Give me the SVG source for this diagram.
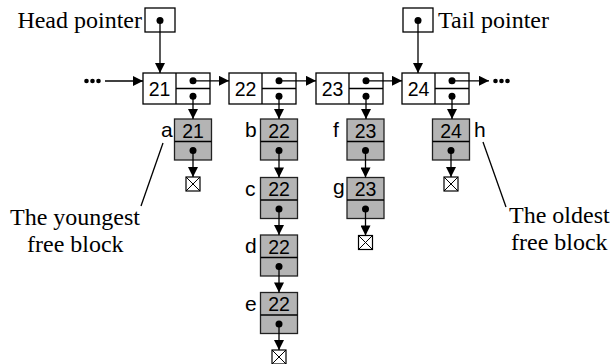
<svg xmlns="http://www.w3.org/2000/svg" width="610" height="364" viewBox="0 0 610 364">
<defs>
<style>
.box{fill:#fff;stroke:#000;stroke-width:1.3}
.blk{fill:#b4b4b4;stroke:#222;stroke-width:1.3}
.ln{fill:none;stroke:#000;stroke-width:1.3}
.ser{font-family:"Liberation Serif","Times New Roman",serif;font-size:24px;fill:#000}
.san{font-family:"Liberation Sans",Arial,sans-serif;font-size:19.5px;fill:#000}
.lab{font-family:"Liberation Sans",Arial,sans-serif;font-size:21px;fill:#000}
.mid{text-anchor:middle}
</style>
<marker id="ah" viewBox="0 0 10 10" refX="10" refY="5" markerWidth="11" markerHeight="10" markerUnits="userSpaceOnUse" orient="auto">
<path d="M0,0 L10,5 L0,10 z" fill="#000"/>
</marker>
<g id="term">
<rect x="-7" y="0" width="14" height="14" fill="#fff" stroke="#000" stroke-width="1.2"/>
<path d="M-7,0 L7,14 M7,0 L-7,14" stroke="#000" stroke-width="1"/>
</g>
</defs>
<rect width="610" height="364" fill="#fff"/>

<g id="head-pointer">
<text class="ser" x="142" y="28" text-anchor="end">Head pointer</text>
<rect class="box" x="145" y="8" width="30" height="24"/>
<circle cx="160" cy="20.5" r="3.5"/>
</g>
<g id="tail-pointer">
<rect class="box" x="403" y="8" width="30" height="24"/>
<circle cx="418" cy="20.5" r="3.5"/>
<text class="ser" x="438" y="28">Tail pointer</text>
</g>
<g id="youngest-label">
<text class="ser" x="10" y="225">The youngest</text>
<text class="ser" x="27" y="252">free block</text>
</g>
<g id="oldest-label">
<text class="ser" x="509" y="223">The oldest</text>
<text class="ser" x="511" y="250">free block</text>
</g>
<g id="dots-left">
<circle cx="86.5" cy="81" r="2.3"/><circle cx="92.5" cy="81" r="2.3"/><circle cx="98.5" cy="81" r="2.3"/>
</g>
<g id="dots-right">
<circle cx="495.5" cy="81" r="2.3"/><circle cx="501.5" cy="81" r="2.3"/><circle cx="507.5" cy="81" r="2.3"/>
</g>

<g id="node-21">
<rect class="box" x="143" y="73" width="67" height="31"/>
<path class="ln" d="M176,73 V104 M176,88.5 H210"/>
<text class="san mid" x="159.5" y="96">21</text>
<circle cx="193" cy="80.8" r="3.5"/><circle cx="193" cy="96.2" r="3.5"/>
</g>
<g id="node-22">
<rect class="box" x="229" y="73" width="67" height="31"/>
<path class="ln" d="M262,73 V104 M262,88.5 H296"/>
<text class="san mid" x="245.5" y="96">22</text>
<circle cx="279" cy="80.8" r="3.5"/><circle cx="279" cy="96.2" r="3.5"/>
</g>
<g id="node-23">
<rect class="box" x="316" y="73" width="67" height="31"/>
<path class="ln" d="M349,73 V104 M349,88.5 H383"/>
<text class="san mid" x="332.5" y="96">23</text>
<circle cx="366" cy="80.8" r="3.5"/><circle cx="366" cy="96.2" r="3.5"/>
</g>
<g id="node-24">
<rect class="box" x="402" y="73" width="67" height="31"/>
<path class="ln" d="M435,73 V104 M435,88.5 H469"/>
<text class="san mid" x="418.5" y="96">24</text>
<circle cx="452" cy="80.8" r="3.5"/><circle cx="452" cy="96.2" r="3.5"/>
</g>

<g id="block-a">
<rect class="blk" x="174.5" y="119" width="37" height="41"/>
<path class="ln" d="M174.5,141.5 H211.5"/>
<text class="san mid" x="193" y="137.5">21</text>
<circle cx="193" cy="150.5" r="3.5"/>
<text class="lab" x="161" y="137">a</text>
</g>
<g id="block-b">
<rect class="blk" x="260.5" y="119" width="37" height="41"/>
<path class="ln" d="M260.5,141.5 H297.5"/>
<text class="san mid" x="279" y="137.5">22</text>
<circle cx="279" cy="150.5" r="3.5"/>
<text class="lab" x="245" y="137">b</text>
</g>
<g id="block-c">
<rect class="blk" x="260.5" y="177.5" width="37" height="41"/>
<path class="ln" d="M260.5,200 H297.5"/>
<text class="san mid" x="279" y="196">22</text>
<circle cx="279" cy="209" r="3.5"/>
<text class="lab" x="245" y="195.5">c</text>
</g>
<g id="block-d">
<rect class="blk" x="260.5" y="235" width="37" height="41"/>
<path class="ln" d="M260.5,257.5 H297.5"/>
<text class="san mid" x="279" y="253.5">22</text>
<circle cx="279" cy="266.5" r="3.5"/>
<text class="lab" x="245" y="253">d</text>
</g>
<g id="block-e">
<rect class="blk" x="260.5" y="292.5" width="37" height="41"/>
<path class="ln" d="M260.5,315 H297.5"/>
<text class="san mid" x="279" y="311">22</text>
<circle cx="279" cy="324" r="3.5"/>
<text class="lab" x="245" y="310.5">e</text>
</g>
<g id="block-f">
<rect class="blk" x="347" y="119" width="37" height="41"/>
<path class="ln" d="M347,141.5 H384"/>
<text class="san mid" x="365.5" y="137.5">23</text>
<circle cx="365.5" cy="150.5" r="3.5"/>
<text class="lab" x="333" y="137">f</text>
</g>
<g id="block-g">
<rect class="blk" x="347" y="177.5" width="37" height="41"/>
<path class="ln" d="M347,200 H384"/>
<text class="san mid" x="365.5" y="196">23</text>
<circle cx="365.5" cy="209" r="3.5"/>
<text class="lab" x="333" y="193.5">g</text>
</g>
<g id="block-h">
<rect class="blk" x="432.5" y="119" width="37" height="41"/>
<path class="ln" d="M432.5,141.5 H469.5"/>
<text class="san mid" x="451" y="137.5">24</text>
<circle cx="451" cy="150.5" r="3.5"/>
<text class="lab" x="474" y="137">h</text>
</g>

<g id="null-a"><use href="#term" x="193" y="177"/></g>
<g id="null-e"><use href="#term" x="279" y="350"/></g>
<g id="null-g"><use href="#term" x="365.5" y="235.5"/></g>
<g id="null-h"><use href="#term" x="451" y="177"/></g>

<g id="connectors">
<path class="ln" d="M160,20.5 V73" marker-end="url(#ah)"/>
<path class="ln" d="M418,20.5 V73" marker-end="url(#ah)"/>
<path class="ln" d="M105,81 H143" marker-end="url(#ah)"/>
<path class="ln" d="M193,80.8 H229" marker-end="url(#ah)"/>
<path class="ln" d="M279,80.8 H316" marker-end="url(#ah)"/>
<path class="ln" d="M366,80.8 H402" marker-end="url(#ah)"/>
<path class="ln" d="M452,80.8 H489" marker-end="url(#ah)"/>
<path class="ln" d="M193,96 V119" marker-end="url(#ah)"/>
<path class="ln" d="M279,96 V119" marker-end="url(#ah)"/>
<path class="ln" d="M366,96 V119" marker-end="url(#ah)"/>
<path class="ln" d="M452,96 V119" marker-end="url(#ah)"/>
<path class="ln" d="M193,150.5 V177" marker-end="url(#ah)"/>
<path class="ln" d="M279,150.5 V177.5" marker-end="url(#ah)"/>
<path class="ln" d="M279,209 V235" marker-end="url(#ah)"/>
<path class="ln" d="M279,266.5 V292.5" marker-end="url(#ah)"/>
<path class="ln" d="M279,324 V350" marker-end="url(#ah)"/>
<path class="ln" d="M365.5,150.5 V177.5" marker-end="url(#ah)"/>
<path class="ln" d="M365.5,209 V235.5" marker-end="url(#ah)"/>
<path class="ln" d="M451,150.5 V177" marker-end="url(#ah)"/>
<path class="ln" d="M163,143 L141,206"/>
<path class="ln" d="M483,142 L506,207"/>
</g>
</svg>
